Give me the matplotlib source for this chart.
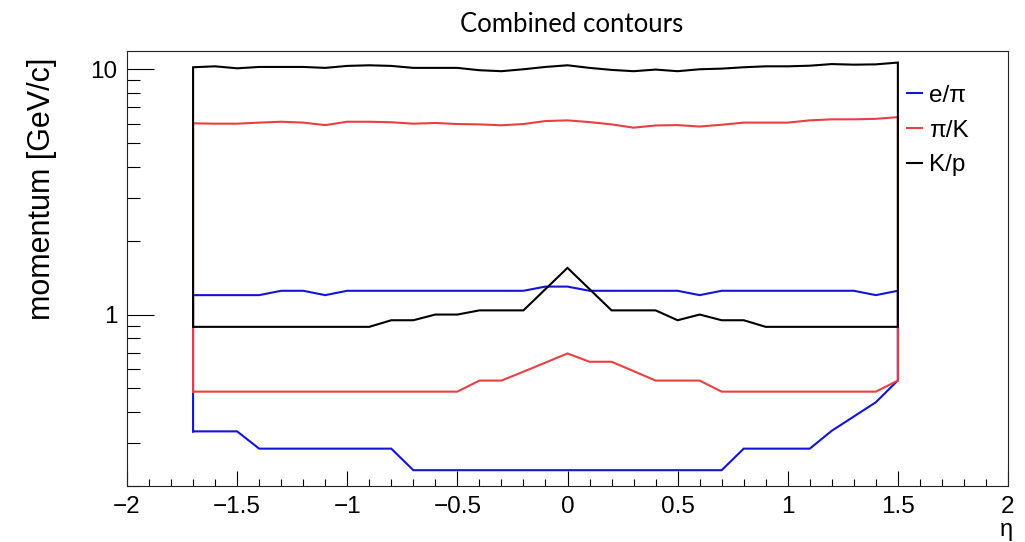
import matplotlib
matplotlib.use("Agg")
import matplotlib.pyplot as plt
from matplotlib.ticker import FixedLocator, NullFormatter, FixedFormatter

plt.rcParams['font.family'] = ['Liberation Sans', 'DejaVu Sans']

# pseudorapidity bins
eta = [-1.7, -1.6, -1.5, -1.4, -1.3, -1.2, -1.1, -1.0, -0.9, -0.8, -0.7,
       -0.6, -0.5, -0.4, -0.3, -0.2, -0.1, 0.0, 0.1, 0.2, 0.3, 0.4,
       0.5, 0.6, 0.7, 0.8, 0.9, 1.0, 1.1, 1.2, 1.3, 1.4, 1.5]

# e/pi separation band [GeV/c]
epi_low = [0.334, 0.334, 0.334, 0.284, 0.284, 0.284, 0.284, 0.284, 0.284, 0.284, 0.232,
           0.232, 0.232, 0.232, 0.232, 0.232, 0.232, 0.232, 0.232, 0.232, 0.232, 0.232,
           0.232, 0.232, 0.232, 0.284, 0.284, 0.284, 0.284, 0.336, 0.384, 0.439, 0.539]
epi_high = [1.20, 1.20, 1.20, 1.20, 1.25, 1.25, 1.20, 1.25, 1.25, 1.25, 1.25,
            1.25, 1.25, 1.25, 1.25, 1.25, 1.30, 1.30, 1.25, 1.25, 1.25, 1.25,
            1.25, 1.20, 1.25, 1.25, 1.25, 1.25, 1.25, 1.25, 1.25, 1.20, 1.25]

# pi/K separation band [GeV/c]
pik_low = [0.485, 0.485, 0.485, 0.485, 0.485, 0.485, 0.485, 0.485, 0.485, 0.485, 0.485,
           0.485, 0.485, 0.538, 0.538, 0.585, 0.637, 0.694, 0.642, 0.642, 0.588, 0.538,
           0.538, 0.538, 0.485, 0.485, 0.485, 0.485, 0.485, 0.485, 0.485, 0.485, 0.538]
pik_high = [6.02, 6.00, 6.00, 6.06, 6.11, 6.06, 5.92, 6.11, 6.11, 6.08, 6.00,
            6.04, 5.98, 5.96, 5.91, 5.98, 6.15, 6.19, 6.09, 5.96, 5.78, 5.90,
            5.92, 5.84, 5.94, 6.06, 6.06, 6.06, 6.19, 6.25, 6.25, 6.28, 6.38]

# K/p separation band [GeV/c]
kp_low = [0.891, 0.891, 0.891, 0.891, 0.891, 0.891, 0.891, 0.891, 0.891, 0.948, 0.948,
          1.00, 1.00, 1.04, 1.04, 1.04, 1.27, 1.55, 1.27, 1.04, 1.04, 1.04,
          0.948, 1.00, 0.948, 0.948, 0.891, 0.891, 0.891, 0.891, 0.891, 0.891, 0.891]
kp_high = [10.19, 10.28, 10.09, 10.22, 10.22, 10.22, 10.13, 10.32, 10.38, 10.32, 10.13,
           10.13, 10.13, 9.91, 9.82, 10.00, 10.22, 10.38, 10.13, 9.94, 9.82, 9.97,
           9.82, 10.00, 10.06, 10.19, 10.28, 10.28, 10.34, 10.50, 10.44, 10.47, 10.65]

labels = ["e/\u03c0", "\u03c0/K", "K/p"]
colors = ["#1414d6", "#e84040", "#000000"]

xticks_major = [-2, -1.5, -1, -0.5, 0, 0.5, 1, 1.5, 2]
xtick_labels = ["\u22122", "\u22121.5", "\u22121", "\u22120.5", "0", "0.5", "1", "1.5", "2"]
yticks_major = [1, 10]
ytick_labels = ["1", "10"]


def closed_contour(x, lo, hi):
    xs = list(x) + list(x[::-1]) + [x[0]]
    ys = list(lo) + list(hi[::-1]) + [lo[0]]
    return xs, ys


fig = plt.figure(figsize=(10.25, 5.42), dpi=100)
ax = fig.add_axes([127 / 1025, 1 - 486 / 542, (1008 - 127) / 1025, (486 - 51) / 542])

handles = []
for lo, hi, c, lab in zip([epi_low, pik_low, kp_low], [epi_high, pik_high, kp_high],
                          colors, labels):
    xs, ys = closed_contour(eta, lo, hi)
    h, = ax.plot(xs, ys, color=c, lw=1.5, label=lab, solid_joinstyle='miter')
    handles.append(h)

ax.set_yscale('log')
ax.set_xlim(-2, 2)
ax.set_ylim(0.2, 11.87)

ax.xaxis.set_major_locator(FixedLocator(xticks_major))
ax.xaxis.set_major_formatter(FixedFormatter(xtick_labels))
ax.xaxis.set_minor_locator(FixedLocator([i / 10 for i in range(-20, 21) if i % 5 != 0]))

ax.yaxis.set_major_locator(FixedLocator(yticks_major))
ax.yaxis.set_major_formatter(FixedFormatter(ytick_labels))
yminor = [m * 0.1 for m in range(2, 10)] + list(range(2, 10))
ax.yaxis.set_minor_locator(FixedLocator(yminor))
ax.yaxis.set_minor_formatter(NullFormatter())

ax.tick_params(axis='x', which='major', direction='in', length=10.8, width=0.8,
               labelsize=17.5, pad=7.5, top=False)
ax.tick_params(axis='x', which='minor', direction='in', length=5.2, width=0.8, top=False)
ax.tick_params(axis='y', which='major', direction='in', length=19.5, width=0.8,
               labelsize=17.5, pad=7, right=False)
ax.tick_params(axis='y', which='minor', direction='in', length=9.5, width=0.8, right=False)

for sp in ax.spines.values():
    sp.set_linewidth(0.8)
    sp.set_color('#222222')

fig.text(572 / 1025, 1 - 32 / 542, "Combined contours", ha='center', va='baseline',
         fontsize=18.5, family=['Lato', 'DejaVu Sans'])
fig.text(42.5 / 1025, 1 - 58 / 542, "momentum [GeV/c]", rotation=90, ha='center', va='top',
         fontsize=22)
fig.text(1006 / 1025, 1 - 541 / 542, "\u03b7", ha='center', va='bottom', fontsize=17)

fs = 17.5
fs_px = fs * 100 / 72
fig.legend(handles=handles, labels=labels, loc='upper left',
           bbox_to_anchor=(907 / 1025, 1 - (97 - fs_px / 2) / 542),
           bbox_transform=fig.transFigure, frameon=False, fontsize=fs,
           handlelength=15 / fs_px, handletextpad=7 / fs_px,
           labelspacing=(37 - fs_px) / fs_px, borderpad=0, borderaxespad=0)

fig.savefig("out.png", dpi=100)
